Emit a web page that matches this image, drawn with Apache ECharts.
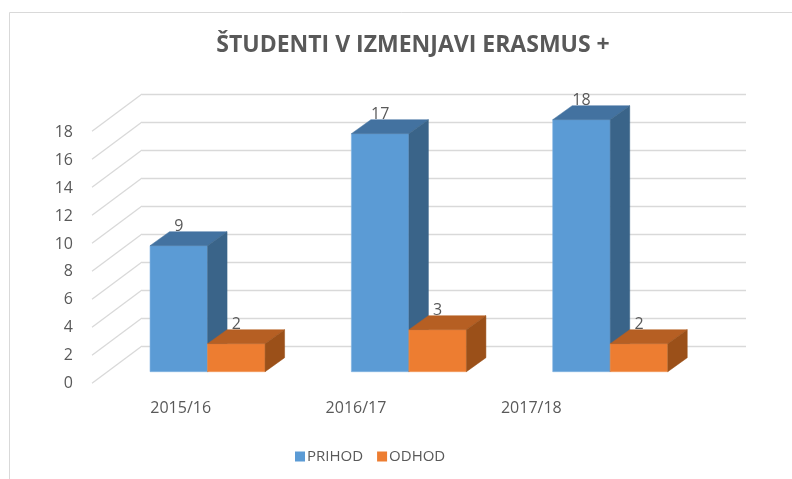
<!DOCTYPE html>
<html>
<head>
<meta charset="utf-8">
<script src="https://cdn.jsdelivr.net/npm/echarts@6/dist/echarts.min.js"></script>
<style>html,body{margin:0;padding:0;background:#fff}#c{width:792px;height:479px}</style>
</head>
<body>
<div id="c"></div>
<script>
const categories = ['2015/16', '2016/17', '2017/18'];
const prihod = [9, 17, 18];
const odhod = [2, 3, 2];
const yTicks = [0, 2, 4, 6, 8, 10, 12, 14, 16, 18];
const seriesNames = ['PRIHOD', 'ODHOD'];

const FONT = "'Open Sans', 'Noto Sans', sans-serif";
const TXT = '#595959';
const GRIDC = '#d9d9d9';
const palettes = [
  { front: '#5b9bd5', top: '#4372a0', side: '#3a6489', edge: '#7fb2e3' },
  { front: '#ed7d31', top: '#b65f23', side: '#9b5019', edge: '#f29a5c' }
];

function barRenderer(idx) {
  const pal = palettes[idx];
  return function (params, api) {
    const cat = api.value(0), v = api.value(1);
    const c = api.coord([cat, v]);
    const b = api.coord([cat, 0]);
    const band = api.size([1, 0])[0];
    const w = band * 0.2857;
    const x0 = idx === 0 ? c[0] - w : c[0];
    const x1 = x0 + w;
    const top = c[1], bot = b[1];
    const dx = 19.5, dy = 14;
    return {
      type: 'group',
      children: [
        { type: 'rect', shape: { x: x0, y: top, width: w, height: bot - top },
          style: { fill: pal.front, stroke: pal.edge, lineWidth: 0.6 } },
        { type: 'polygon', shape: { points: [[x0, top], [x0 + dx, top - dy], [x1 + dx, top - dy], [x1, top]] },
          style: { fill: pal.top, stroke: pal.top, lineWidth: 0.5 } },
        { type: 'polygon', shape: { points: [[x1, top], [x1 + dx, top - dy], [x1 + dx, bot - dy], [x1, bot]] },
          style: { fill: pal.side, stroke: pal.side, lineWidth: 0.5 } },
        { type: 'text', style: { x: (x0 + x1) / 2, y: top - 19.5, text: String(v),
          fill: TXT, font: '16px ' + FONT, align: 'center', verticalAlign: 'middle' } }
      ]
    };
  };
}

const chart = echarts.init(document.getElementById('c'));
chart.setOption({
  backgroundColor: '#fff',
  animation: false,
  title: {
    text: 'ŠTUDENTI V IZMENJAVI ERASMUS +',
    left: 408, top: 29, textAlign: 'center',
    textStyle: { fontFamily: FONT, fontWeight: 'bold', fontSize: 23, color: TXT }
  },
  legend: {
    left: 290, top: 444,
    icon: 'rect', itemWidth: 10, itemHeight: 10, itemGap: 14,
    textStyle: { fontFamily: FONT, fontSize: 15, color: TXT, padding: [0, 0, 0, -3] },
    data: seriesNames
  },
  graphic: [
    { type: 'rect', shape: { x: 9.5, y: 12.5, width: 900, height: 600 },
      style: { fill: 'none', stroke: GRIDC, lineWidth: 1 }, z: -10 }
  ],
  grid: [
    { left: 93, top: 132.6, width: 526, height: 250.7 },
    { left: 142, top: 94, width: 604, height: 252 },
    { left: 106.9, top: 119.7, width: 604, height: 252 }
  ],
  xAxis: [
    { type: 'category', gridIndex: 0, data: categories,
      axisLine: { show: false }, axisTick: { show: false },
      axisLabel: { margin: 17, fontFamily: FONT, fontSize: 16, color: TXT } },
    { type: 'value', gridIndex: 1, min: 0, max: 1, show: false },
    { type: 'category', gridIndex: 2, data: categories, show: false }
  ],
  yAxis: [
    { type: 'value', gridIndex: 0, min: 0, max: 18, interval: 2,
      axisLine: { show: false }, axisTick: { show: false }, splitLine: { show: false },
      axisLabel: { margin: 20, fontFamily: FONT, fontSize: 16, color: TXT } },
    { type: 'value', gridIndex: 1, min: 0, max: 18, interval: 2,
      axisLine: { show: false }, axisTick: { show: false }, axisLabel: { show: false },
      splitLine: { show: true, lineStyle: { color: GRIDC, width: 1.3 } } },
    { type: 'value', gridIndex: 2, min: 0, max: 18, show: false }
  ],
  series: [
    {
      type: 'custom', xAxisIndex: 1, yAxisIndex: 1, silent: true, z: 1,
      data: yTicks.map(v => [0, v]),
      renderItem: function (params, api) {
        const p = api.coord([0, api.value(1)]);
        return { type: 'line', shape: { x1: p[0] - 50, y1: p[1] + 37.3, x2: p[0], y2: p[1] },
          style: { stroke: GRIDC, lineWidth: 1.3 } };
      }
    },
    {
      name: seriesNames[0], type: 'custom', xAxisIndex: 2, yAxisIndex: 2, z: 3,
      itemStyle: { color: palettes[0].front },
      data: prihod.map((v, i) => [i, v]),
      renderItem: barRenderer(0)
    },
    {
      name: seriesNames[1], type: 'custom', xAxisIndex: 2, yAxisIndex: 2, z: 4,
      itemStyle: { color: palettes[1].front },
      data: odhod.map((v, i) => [i, v]),
      renderItem: barRenderer(1)
    }
  ]
});
</script>
</body>
</html>
